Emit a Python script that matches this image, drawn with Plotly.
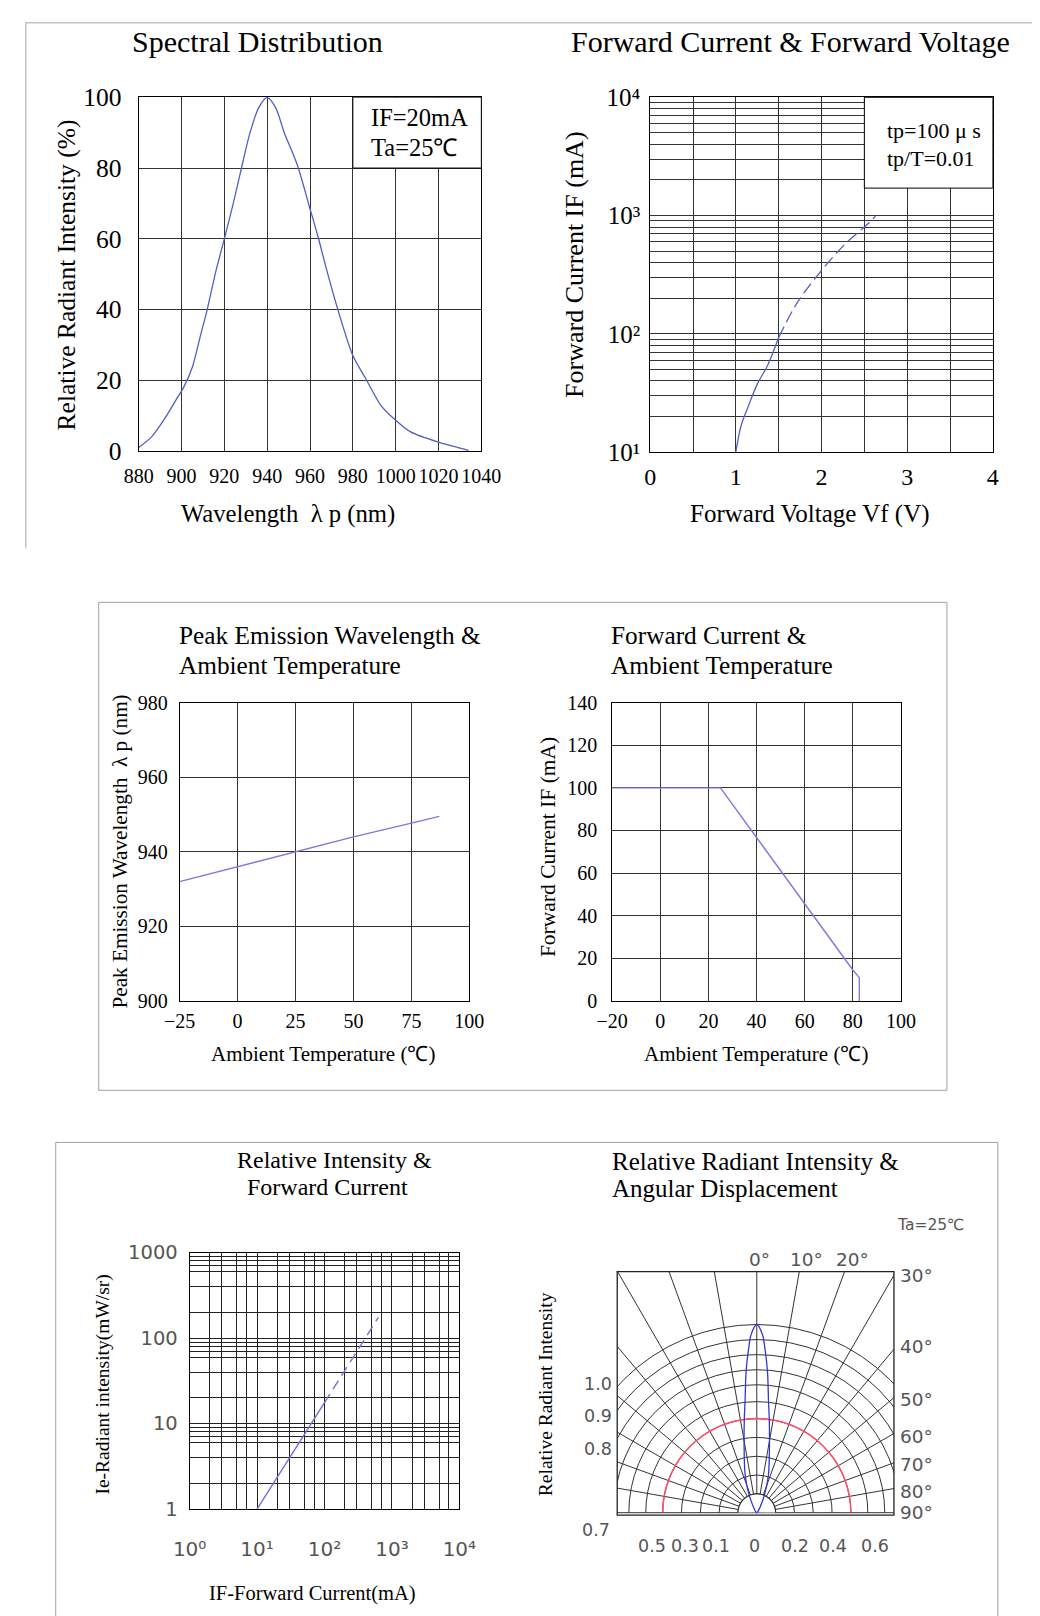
import plotly.graph_objects as go

# Positions below are given in reference-picture pixels and converted to figure pixels.
# The photographed page appears scaled (AX, AY) and offset (BX, BY); body margin is 8px.
AX, BX = 0.966, 15.5
AY, BY = 0.980, 16.0
FW, FH = 1060, 1608
def px_x(xr): return (xr - BX) / AX - 8
def px_y(yr): return (yr - BY) / AY - 8
def fx(x): return px_x(x) / FW
def fy(y): return 1 - px_y(y) / FH

# ---------------- data ----------------
# Spectral distribution
spec_wl = [880, 886, 892, 898, 901, 905, 909, 912, 916, 920, 924, 928, 932, 936, 940,
           944, 948, 954, 960, 964, 968, 973, 980, 986, 993, 1000, 1007, 1020, 1034]
spec_ri = [1, 4, 9, 15, 18, 23.6, 33, 40, 50.7, 60, 69.6, 80, 90, 97, 100,
           97, 90, 81, 68.5, 60, 50.7, 40, 27, 20.5, 13, 8.7, 5.4, 2.5, 0.2]
spec_xticks = [880, 900, 920, 940, 960, 980, 1000, 1020, 1040]
spec_yticks = [0, 20, 40, 60, 80, 100]

# Forward current vs forward voltage
vf_solid = [1.0, 1.06, 1.14, 1.25, 1.37, 1.5]
if_solid = [10, 16.6, 23.8, 37.5, 54, 93]
vf_dash = [1.5, 1.72, 2.0, 2.26, 2.5, 2.63]
if_dash = [93, 185, 343, 559, 800, 985]
vf_ticks = [0, 1, 2, 3, 4]
vf_minor = [0.5, 1.5, 2.5, 3.5]
if_decades = [10, 100, 1000, 10000]
if_decade_text = ["10\u00b9", "10\u00b2", "10\u00b3", "10\u2074"]
log_minor_digits = [2, 3, 4, 5, 6, 7, 8, 9]

# Peak wavelength vs ambient temperature
pw_temp = [-25, 0, 25, 50, 75, 87]
pw_wl = [932, 936, 940, 944, 947.7, 949.5]
pw_xticks = [-25, 0, 25, 50, 75, 100]
pw_yticks = [900, 920, 940, 960, 980]

# Forward current derating vs ambient temperature
fd_temp = [-20, 25, 80, 82.7, 82.7]
fd_if = [100, 100, 14.6, 11, 0]
fd_xticks = [-20, 0, 20, 40, 60, 80, 100]
fd_yticks = [0, 20, 40, 60, 80, 100, 120, 140]

# Relative intensity vs forward current (log-log)
ri_if_solid = [10, 100]
ri_ie_solid = [1, 17.6]
ri_if_dash = [100, 630]
ri_ie_dash = [17.6, 175]
ri_x_decades = [1, 10, 100, 1000, 10000]
ri_x_text = ["10\u2070", "10\u00b9", "10\u00b2", "10\u00b3", "10\u2074"]
ri_x_minor = [2, 3, 5, 7]
ri_y_decades = [1, 10, 100, 1000]
ri_y_text = ["1", "10", "100", "1000"]
ri_y_minor = [2, 4, 6, 7, 8, 9]

# Angular displacement (polar)
lobe_theta = [-90, -31, -22.8, -17.3, -11.8, -7.7, -6.0, -4.3, -2.8, -1.8, 0,
              1.8, 2.8, 4.3, 6.0, 7.7, 11.8, 17.3, 22.8, 31, 90]
lobe_r = [0, 0.031, 0.11, 0.207, 0.327, 0.496, 0.596, 0.755, 0.877, 0.948, 1.0,
          0.948, 0.877, 0.755, 0.596, 0.496, 0.327, 0.207, 0.11, 0.031, 0]
polar_arcs = [0.1, 0.2, 0.3, 0.4, 0.5, 0.59, 0.68, 0.76, 0.84, 0.92, 1.0]
half_power_r = 0.5
hole_r = 0.1
arc_theta = list(range(-90, 91, 5))

# ---------------- styling ----------------
SERIF = "Liberation Serif"
SANS = "DejaVu Sans"
GRID = "#333333"
BLUE = "#4f5fc7"
LAV = "#7b78e0"
GRAYTXT = "#555555"

def minor_vals(decades, digits):
    return [d * m for d in decades[:-1] for m in digits]

fig = go.Figure()
nohover = dict(hoverinfo="skip", showlegend=False)

fig.add_trace(go.Scatter(x=spec_wl, y=spec_ri, xaxis="x", yaxis="y", mode="lines",
                         line=dict(color=BLUE, width=1.3, shape="spline", smoothing=0.8), **nohover))
fig.add_trace(go.Scatter(x=vf_solid, y=if_solid, xaxis="x2", yaxis="y2", mode="lines",
                         line=dict(color=BLUE, width=1.3, shape="spline"), **nohover))
fig.add_trace(go.Scatter(x=vf_dash, y=if_dash, xaxis="x2", yaxis="y2", mode="lines",
                         line=dict(color=BLUE, width=1.3, shape="spline", dash="12px,5px"), **nohover))
fig.add_trace(go.Scatter(x=pw_temp, y=pw_wl, xaxis="x3", yaxis="y3", mode="lines",
                         line=dict(color=LAV, width=1.4), **nohover))
fig.add_trace(go.Scatter(x=fd_temp, y=fd_if, xaxis="x4", yaxis="y4", mode="lines",
                         line=dict(color=LAV, width=1.4), **nohover))
fig.add_trace(go.Scatter(x=ri_if_solid, y=ri_ie_solid, xaxis="x5", yaxis="y5", mode="lines",
                         line=dict(color="#6f72d8", width=1.4), **nohover))
fig.add_trace(go.Scatter(x=ri_if_dash, y=ri_ie_dash, xaxis="x5", yaxis="y5", mode="lines",
                         line=dict(color="#6f72d8", width=1.4, dash="10px,6px"), **nohover))

# polar
fig.add_trace(go.Scatterpolar(theta=arc_theta, r=[hole_r] * len(arc_theta), subplot="polar",
                              mode="lines", fill="toself", fillcolor="white",
                              line=dict(color=GRID, width=1.2), **nohover))
fig.add_trace(go.Scatterpolar(theta=arc_theta, r=[half_power_r] * len(arc_theta), subplot="polar",
                              mode="lines", line=dict(color="#ff4d6a", width=1.5), **nohover))
fig.add_trace(go.Scatterpolar(theta=lobe_theta, r=lobe_r, subplot="polar", mode="lines",
                              line=dict(color="#3535c8", width=1.3, shape="spline"), **nohover))

def axis(domain, anchor, font_size, family=SERIF, color="black", standoff=8,
         gridcolor=GRID, gridwidth=1, minor=None, **kw):
    d = dict(domain=domain, anchor=anchor, showgrid=True, gridcolor=gridcolor, gridwidth=gridwidth,
             showline=True, linecolor="black", linewidth=1, mirror=True, zeroline=False,
             ticks="", ticklabelstandoff=standoff,
             tickfont=dict(family=family, size=font_size, color=color), fixedrange=True)
    if minor is not None:
        d["minor"] = dict(tickmode="array", tickvals=minor, showgrid=True, gridcolor=gridcolor,
                          gridwidth=gridwidth, ticks="")
    d.update(kw)
    return d

layout = dict(width=FW, height=FH, margin=dict(l=0, r=0, t=0, b=0),
              paper_bgcolor="white", plot_bgcolor="white", showlegend=False)

# P1
layout["xaxis"] = axis([fx(137), fx(480)], "y", 20, standoff=7, range=[880, 1040], tickvals=spec_xticks)
layout["yaxis"] = axis([fy(452), fy(99)], "x", 25.5, standoff=11, range=[0, 100], tickvals=spec_yticks)
# P2
layout["xaxis2"] = axis([fx(649), fx(992)], "y2", 24, standoff=3, range=[0, 4],
                        tickvals=vf_ticks, minor=vf_minor)
layout["yaxis2"] = axis([fy(453), fy(99)], "x2", 25, standoff=4, type="log", range=[1, 4],
                        tickvals=if_decades, ticktext=if_decade_text,
                        minor=minor_vals(if_decades, log_minor_digits))
# P3
layout["xaxis3"] = axis([fx(178), fx(468)], "y3", 20, standoff=2, range=[-25, 100], tickvals=pw_xticks)
layout["yaxis3"] = axis([fy(1001), fy(703)], "x3", 20, standoff=7, range=[900, 980], tickvals=pw_yticks)
# P4
layout["xaxis4"] = axis([fx(611), fx(900)], "y4", 20, standoff=2, range=[-20, 100], tickvals=fd_xticks)
layout["yaxis4"] = axis([fy(1001), fy(703)], "x4", 20, standoff=10, range=[0, 140], tickvals=fd_yticks)
# P5
layout["xaxis5"] = axis([fx(188), fx(458)], "y5", 20, family=SANS, color=GRAYTXT, standoff=22,
                        type="log", range=[0, 4], tickvals=ri_x_decades, ticktext=ri_x_text,
                        minor=minor_vals(ri_x_decades, ri_x_minor), gridcolor="#222", gridwidth=1.2)
layout["yaxis5"] = axis([fy(1508), fy(1252)], "x5", 19.5, family=SANS, color=GRAYTXT, standoff=7,
                        type="log", range=[0, 3], tickvals=ri_y_decades, ticktext=ri_y_text,
                        minor=minor_vals(ri_y_decades, ri_y_minor), gridcolor="#222", gridwidth=1.2)

# polar: centre at reference (755.7, 1514); R in figure px; unit radius (r=1) = 195 px
R = 289
UNIT = 195
pcx, pcy = px_x(755.7), px_y(1514)
layout["polar"] = dict(
    domain=dict(x=[(pcx - R) / FW, (pcx + R) / FW], y=[1 - pcy / FH, 1 - (pcy - R) / FH]),
    sector=[0, 180], bgcolor="white", hole=0,
    radialaxis=dict(range=[0, R / UNIT], tickvals=polar_arcs, showticklabels=False, ticks="",
                    showline=False, gridcolor=GRID, gridwidth=1.2),
    angularaxis=dict(rotation=90, direction="clockwise", dtick=10, showticklabels=False,
                     ticks="", showline=False, gridcolor=GRID, gridwidth=1.2),
)

def rect_px(x0, y0, x1, y1, **kw):
    d = dict(type="rect", xref="paper", yref="paper", x0=fx(x0), x1=fx(x1), y0=fy(y1), y1=fy(y0),
             layer="above")
    d.update(kw)
    return d

shapes = [
    # legend boxes
    dict(type="rect", xref="x", yref="y", x0=980, x1=1040, y0=80, y1=100,
         fillcolor="white", line=dict(color="black", width=1), layer="above"),
    dict(type="rect", xref="x2", yref="y2 domain", x0=2.5, x1=4, y0=0.744, y1=1,
         fillcolor="white", line=dict(color="black", width=1), layer="above"),
    # masks around polar box
    rect_px(468, 1222, 1060, 1271, fillcolor="white", line=dict(width=0)),
    rect_px(468, 1222, 616, 1517, fillcolor="white", line=dict(width=0)),
    rect_px(893, 1222, 1060, 1517, fillcolor="white", line=dict(width=0)),
    # polar box
    rect_px(616, 1271, 893, 1514, line=dict(color="#222", width=1.3)),
    # panel frames
    rect_px(97, 603, 946, 1090, line=dict(color="#a0a0a0", width=1)),
    rect_px(54, 1142, 997, 1660, line=dict(color="#a0a0a0", width=1)),
    dict(type="path", xref="paper", yref="paper",
         path=f"M {0.8 / FW},{fy(549)} L {0.8 / FW},{1 - 0.8 / FH} L {px_x(1040) / FW},{1 - 0.8 / FH}",
         line=dict(color="#c4c4c4", width=1.5), layer="above"),
]
layout["shapes"] = shapes

def ann(text, x, y, size, family=SERIF, color="black", xanchor="center", angle=0):
    return dict(text=text, x=fx(x), y=fy(y), xref="paper", yref="paper", showarrow=False,
                font=dict(family=family, size=size, color=color), xanchor=xanchor,
                yanchor="middle", textangle=angle)

def ann_top(text, x, size):
    # row-1 titles sit as high as the page allows
    return dict(text=text, x=fx(x), y=1 - 1.0 / FH, xref="paper", yref="paper", showarrow=False,
                font=dict(family=SERIF, size=size, color="black"), xanchor="center", yanchor="top")

anns = [
    ann_top("Spectral Distribution", 256, 30),
    ann_top("Forward Current &amp; Forward Voltage", 789, 30),
    ann("Relative Radiant Intensity (%)", 65, 276, 25.5, angle=-90),
    ann("Wavelength\u00a0 \u03bb p (nm)", 286, 515, 24.7),
    ann("IF=20mA", 368, 119.5, 24.5, xanchor="left"),
    ann("Ta=25\u2103", 368, 149, 24.5, xanchor="left"),
    ann("Forward Current IF (mA)", 573, 266, 26, angle=-90),
    ann("Forward Voltage Vf (V)", 809, 515, 25),
    ann("tp=100 \u03bc s", 884, 132, 22, xanchor="left"),
    ann("tp/T=0.01", 884, 160, 22, xanchor="left"),
    # row 2
    ann("Peak Emission Wavelength &amp;", 175, 636, 25.3, xanchor="left"),
    ann("Ambient Temperature", 175, 666, 25.3, xanchor="left"),
    ann("Forward Current &amp;", 608, 636, 25.3, xanchor="left"),
    ann("Ambient Temperature", 608, 666, 25.3, xanchor="left"),
    ann("Peak Emission Wavelength\u00a0 \u03bb p (nm)", 118, 852, 21.2, angle=-90),
    ann("Ambient Temperature (\u2103)", 322, 1054, 21),
    ann("Forward Current IF (mA)", 547, 847, 21.5, angle=-90),
    ann("Ambient Temperature (\u2103)", 755, 1054, 21),
    # row 3
    ann("Relative Intensity &amp;", 333, 1160, 24),
    ann("Forward Current", 326, 1187, 24),
    ann("Ie-Radiant intensity(mW/sr)", 101, 1384, 19.5, angle=-90),
    ann("IF-Forward Current(mA)", 311, 1592, 20.5),
    ann("Relative Radiant Intensity &amp;", 609, 1161, 25, xanchor="left"),
    ann("Angular Displacement", 609, 1188, 25, xanchor="left"),
    ann("Ta=25\u2103", 930, 1224, 15.5, family=SANS, color=GRAYTXT),
    ann("Relative Radiant Intensity", 545, 1393, 19.5, angle=-90),
]
# polar labels
for t, x, y in [("0\u00b0", 758, 1259), ("10\u00b0", 805, 1259), ("20\u00b0", 852, 1259)]:
    anns.append(ann(t, x, y, 18.5, family=SANS, color=GRAYTXT))
for t, y in [("30\u00b0", 1275), ("40\u00b0", 1346), ("50\u00b0", 1399), ("60\u00b0", 1436),
             ("70\u00b0", 1463), ("80\u00b0", 1490), ("90\u00b0", 1511)]:
    anns.append(ann(t, 897, y, 18.5, family=SANS, color=GRAYTXT, xanchor="left"))
for t, x, y in [("1.0", 597, 1383), ("0.9", 597, 1415), ("0.8", 597, 1448), ("0.7", 595, 1529),
                ("0.5", 651, 1545), ("0.3", 684, 1545), ("0.1", 715, 1545), ("0", 753, 1545),
                ("0.2", 794, 1545), ("0.4", 832, 1545), ("0.6", 874, 1545)]:
    anns.append(ann(t, x, y, 17.5, family=SANS, color=GRAYTXT))
layout["annotations"] = anns

fig.update_layout(**layout)
fig.write_html("out.html")
